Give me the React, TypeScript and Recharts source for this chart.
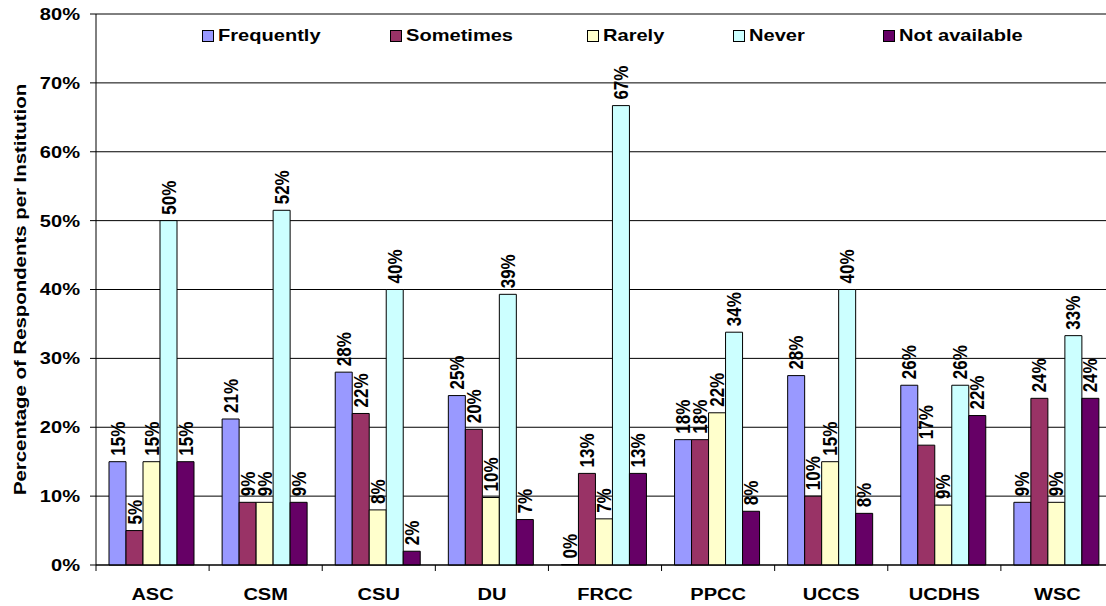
import React from 'react';
import { BarChart, Bar, XAxis, YAxis, CartesianGrid, Legend, LabelList } from 'recharts';

// institutions along the x axis
const institutions = ['ASC', 'CSM', 'CSU', 'DU', 'FRCC', 'PPCC', 'UCCS', 'UCDHS', 'WSC'];

// percentage of respondents per institution, one array per answer
const frequently = [15, 21.2, 28, 24.6, 0, 18.2, 27.5, 26.1, 9.1];
const sometimes = [5, 9.1, 22, 19.7, 13.3, 18.2, 10, 17.4, 24.2];
const rarely = [15, 9.1, 8, 9.8, 6.7, 22.1, 15, 8.7, 9.1];
const never = [50, 51.5, 40, 39.3, 66.7, 33.8, 40, 26.1, 33.3];
const notAvailable = [15, 9.1, 2, 6.6, 13.3, 7.8, 7.5, 21.7, 24.2];

const yTicks = [0, 10, 20, 30, 40, 50, 60, 70, 80];

const series = [
  { key: 'frequently', name: 'Frequently', values: frequently, color: '#9999FF' },
  { key: 'sometimes', name: 'Sometimes', values: sometimes, color: '#993366' },
  { key: 'rarely', name: 'Rarely', values: rarely, color: '#FFFFCC' },
  { key: 'never', name: 'Never', values: never, color: '#CCFFFF' },
  { key: 'notAvailable', name: 'Not available', values: notAvailable, color: '#660066' },
];

const data = institutions.map((name, i) => {
  const row: Record<string, string | number> = { name };
  series.forEach(s => { row[s.key] = s.values[i]; });
  return row;
});

const FONT = '"Liberation Sans", Arial, sans-serif';
const STRETCH = 1.18;
const LEGEND_X = [202, 390, 587, 733, 883];

const YTick = ({ x, y, payload }: any) => (
  <g transform={`translate(${x},${y}) scale(${STRETCH},1)`}>
    <text textAnchor="end" dominantBaseline="central" fontFamily={FONT} fontWeight="bold" fontSize={17} fill="#000">
      {payload.value}%
    </text>
  </g>
);

const XTick = ({ x, y, payload, index, visibleTicksCount, width }: any) => {
  const half = payload.offset ?? width / visibleTicksCount / 2;
  return (
    <g>
      <line x1={x - half} x2={x - half} y1={y} y2={y + 6} stroke="#000" />
      {index === visibleTicksCount - 1 && <line x1={x + half} x2={x + half} y1={y} y2={y + 6} stroke="#000" />}
      <g transform={`translate(${x},${y + 35}) scale(${STRETCH},1)`}>
        <text textAnchor="middle" fontFamily={FONT} fontWeight="bold" fontSize={17} fill="#000">
          {payload.value}
        </text>
      </g>
    </g>
  );
};

const BarLabel = ({ x, y, width, value }: any) => {
  const cx = Number(x) + Number(width) / 2;
  return (
    <g transform={`translate(${cx},${Number(y) - 6}) rotate(-90) scale(1,${STRETCH})`}>
      <text textAnchor="start" dominantBaseline="central" fontFamily={FONT} fontWeight="bold" fontSize={17} fill="#000">
        {Math.round(Number(value))}%
      </text>
    </g>
  );
};

const YTitle = ({ viewBox }: any) => {
  const cy = viewBox.y + viewBox.height / 2;
  return (
    <g transform={`translate(${viewBox.x + 20},${cy}) rotate(-90) scale(1.2,1)`}>
      <text textAnchor="middle" dominantBaseline="central" fontFamily={FONT} fontWeight="bold" fontSize={17} fill="#000">
        Percentage of Respondents per Institution
      </text>
    </g>
  );
};

const renderLegend = () => (
  <div style={{ position: 'relative', width: 1106, height: 50 }}>
    {series.map((s, i) => (
      <div key={s.key} style={{ position: 'absolute', left: LEGEND_X[i], top: 30 }}>
        <span style={{ position: 'absolute', left: 0, top: 0, width: 10, height: 10, background: s.color, border: '1px solid #000' }} />
        <span
          style={{
            position: 'absolute', left: 16, top: -4, fontFamily: FONT, fontSize: 17, fontWeight: 'bold',
            lineHeight: '20px', whiteSpace: 'nowrap', transform: `scaleX(${STRETCH})`, transformOrigin: 'left',
          }}
        >
          {s.name}
        </span>
      </div>
    ))}
  </div>
);

// zero values still get a hairline bar so their "0%" label is drawn
const zeroPoint = (value: any) => (Number(value) === 0 ? 0.5 : 0);

export default function App() {
  return (
    <div style={{ position: 'absolute', left: 0, top: 0, width: 1106, height: 606, overflow: 'hidden', background: '#fff', fontFamily: FONT }}>
      <BarChart width={1116} height={606} data={data} margin={{ top: 14, right: 2, bottom: 0, left: 0 }} barCategoryGap={13} barGap={0}>
        <CartesianGrid vertical={false} stroke="#000" />
        <XAxis dataKey="name" height={41} tickLine={false} tickSize={0} tickMargin={0} axisLine={{ stroke: '#000' }} tick={<XTick />} interval={0} />
        <YAxis
          width={96}
          domain={[0, 80]}
          ticks={yTicks}
          interval={0}
          tickSize={6}
          tickMargin={10}
          axisLine={{ stroke: '#000' }}
          tickLine={{ stroke: '#000' }}
          tick={<YTick />}
          label={<YTitle />}
        />
        <Legend
          layout="horizontal"
          verticalAlign="middle"
          align="center"
          content={renderLegend}
          wrapperStyle={{ position: 'absolute', top: 0, left: 0, width: 1106, height: 50 }}
        />
        {series.map(s => (
          <Bar key={s.key} dataKey={s.key} name={s.name} fill={s.color} stroke="#000" strokeWidth={1} minPointSize={zeroPoint} isAnimationActive={false}>
            <LabelList dataKey={s.key} content={<BarLabel />} />
          </Bar>
        ))}
      </BarChart>
    </div>
  );
}
